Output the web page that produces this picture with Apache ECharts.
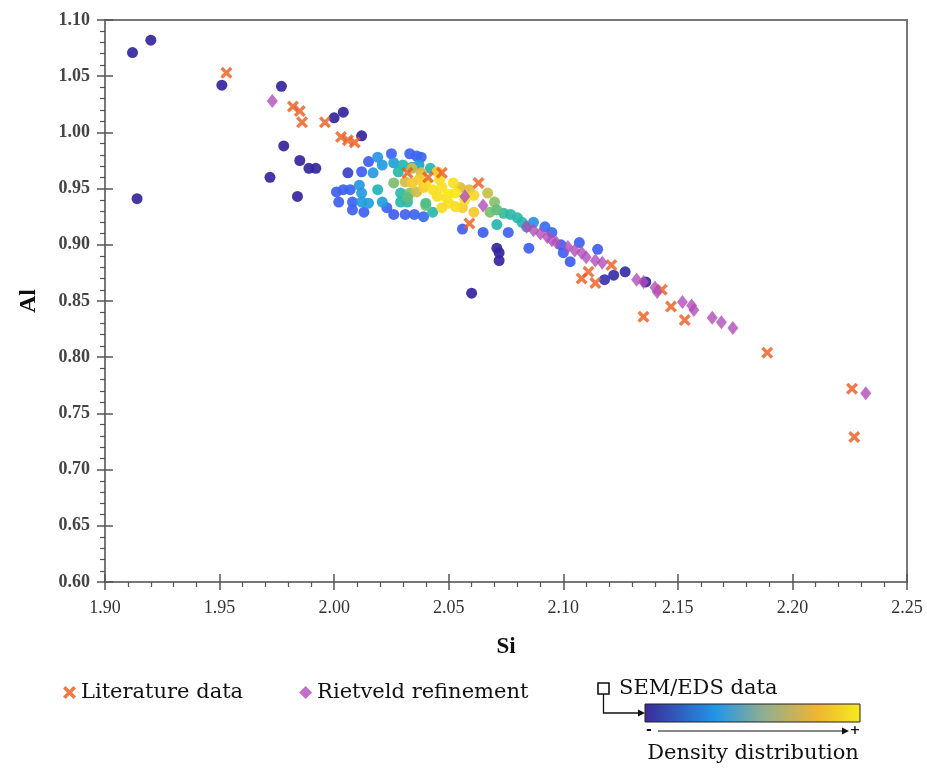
<!DOCTYPE html>
<html>
<head>
<meta charset="utf-8">
<script src="https://cdn.jsdelivr.net/npm/echarts@6/dist/echarts.min.js"></script>
<style>
  html, body { margin: 0; padding: 0; background: #fff; }
  #chart { width: 927px; height: 769px; }
</style>
</head>
<body>
<div id="chart"></div>
<script>
// x / y ticks
const siTicks = [1.90, 1.95, 2.00, 2.05, 2.10, 2.15, 2.20, 2.25]
const alTicks = [0.60, 0.65, 0.70, 0.75, 0.80, 0.85, 0.90, 0.95, 1.00, 1.05, 1.10]

// SEM/EDS points: [Si, Al, density 0..1]
const semData = [
  // isolated, low density
  [1.912, 1.071, 0], [1.920, 1.082, 0], [1.951, 1.042, 0], [1.914, 0.941, 0],
  [1.977, 1.041, 0], [1.972, 0.960, 0], [1.978, 0.988, 0], [1.985, 0.975, 0],
  [1.989, 0.968, 0], [1.992, 0.968, 0], [1.984, 0.943, 0], [2.000, 1.013, 0],
  [2.004, 1.018, 0], [2.012, 0.997, 0], [2.060, 0.857, 0], [2.071, 0.897, 0],
  [2.072, 0.893, 0], [2.072, 0.886, 0], [2.118, 0.869, 0.03], [2.122, 0.873, 0.02],
  [2.127, 0.876, 0.02], [2.136, 0.867, 0], [2.006, 0.964, 0.06],
  // blue
  [2.012, 0.965, 0.12], [2.015, 0.974, 0.12], [2.025, 0.981, 0.13], [2.033, 0.981, 0.13],
  [2.036, 0.979, 0.14], [2.038, 0.978, 0.14], [2.001, 0.947, 0.12], [2.004, 0.949, 0.13],
  [2.007, 0.949, 0.14], [2.002, 0.938, 0.12], [2.008, 0.938, 0.14], [2.008, 0.931, 0.13],
  [2.013, 0.929, 0.13], [2.023, 0.933, 0.14], [2.026, 0.927, 0.12], [2.031, 0.927, 0.13],
  [2.035, 0.927, 0.14], [2.039, 0.925, 0.15], [2.056, 0.914, 0.12], [2.065, 0.911, 0.12],
  [2.076, 0.911, 0.13], [2.085, 0.897, 0.12], [2.092, 0.916, 0.16], [2.095, 0.911, 0.15],
  [2.099, 0.900, 0.13], [2.103, 0.885, 0.12], [2.107, 0.902, 0.13], [2.115, 0.896, 0.12],
  [2.100, 0.893, 0.13],
  // light blue
  [2.019, 0.978, 0.26], [2.017, 0.964, 0.27], [2.021, 0.971, 0.28], [2.026, 0.973, 0.29],
  [2.034, 0.969, 0.30], [2.037, 0.971, 0.30], [2.011, 0.953, 0.27], [2.012, 0.946, 0.28],
  [2.012, 0.938, 0.28], [2.015, 0.937, 0.29], [2.021, 0.938, 0.29], [2.087, 0.920, 0.24],
  // teal
  [2.019, 0.949, 0.40], [2.030, 0.971, 0.42], [2.028, 0.965, 0.42], [2.029, 0.946, 0.43],
  [2.029, 0.938, 0.42], [2.032, 0.938, 0.43], [2.042, 0.968, 0.42], [2.043, 0.929, 0.42],
  [2.071, 0.918, 0.42], [2.074, 0.928, 0.45], [2.077, 0.927, 0.44], [2.080, 0.924, 0.43],
  [2.082, 0.920, 0.42], [2.084, 0.916, 0.36],
  // green
  [2.026, 0.955, 0.56], [2.033, 0.946, 0.57], [2.032, 0.942, 0.52], [2.040, 0.935, 0.55],
  [2.070, 0.938, 0.58], [2.068, 0.929, 0.56], [2.071, 0.931, 0.52], [2.040, 0.937, 0.50],
  // yellow-green
  [2.031, 0.956, 0.70], [2.036, 0.947, 0.70], [2.034, 0.968, 0.68], [2.038, 0.964, 0.72],
  [2.055, 0.951, 0.73], [2.059, 0.949, 0.72], [2.067, 0.946, 0.68],
  // orange
  [2.034, 0.955, 0.84], [2.037, 0.958, 0.85], [2.045, 0.965, 0.84], [2.039, 0.951, 0.86],
  [2.056, 0.933, 0.85], [2.061, 0.929, 0.84],
  // yellow core
  [2.040, 0.955, 0.94], [2.043, 0.949, 0.96], [2.046, 0.958, 0.95], [2.047, 0.951, 0.98],
  [2.052, 0.955, 0.97], [2.053, 0.946, 1.00], [2.049, 0.942, 0.98], [2.050, 0.937, 0.96],
  [2.047, 0.933, 0.93], [2.053, 0.934, 0.95], [2.061, 0.944, 0.92], [2.057, 0.940, 0.97],
  [2.050, 0.945, 1.00], [2.045, 0.943, 0.95]
]

// Literature data: [Si, Al]
const litData = [
  [1.953, 1.053], [1.982, 1.023], [1.985, 1.019], [1.986, 1.009], [1.996, 1.009],
  [2.003, 0.996], [2.006, 0.993], [2.009, 0.991], [2.032, 0.964], [2.041, 0.960],
  [2.047, 0.964], [2.063, 0.955], [2.059, 0.919], [2.108, 0.870], [2.111, 0.876],
  [2.114, 0.866], [2.121, 0.882], [2.143, 0.860], [2.135, 0.836], [2.147, 0.845],
  [2.153, 0.833], [2.189, 0.804], [2.226, 0.772], [2.227, 0.729]
]

// Rietveld refinement: [Si, Al]
const rietData = [
  [1.973, 1.028], [2.057, 0.943], [2.065, 0.935], [2.084, 0.916], [2.087, 0.913],
  [2.090, 0.910], [2.093, 0.907], [2.095, 0.904], [2.097, 0.902], [2.102, 0.898],
  [2.105, 0.895], [2.108, 0.893], [2.110, 0.889], [2.114, 0.886], [2.117, 0.884],
  [2.132, 0.869], [2.135, 0.867], [2.140, 0.862], [2.141, 0.858], [2.152, 0.849],
  [2.156, 0.846], [2.157, 0.842], [2.165, 0.835], [2.169, 0.831], [2.174, 0.826],
  [2.232, 0.768]
]

const densityColors = ['#35259e', '#3f5ff2', '#2a94e6', '#12b3c4', '#4dbe86', '#a9c152', '#efba3a', '#f9cf2c', '#f8e61c']

const crossPath = 'path://M0,2L2,0L5,3L8,0L10,2L7,5L10,8L8,10L5,7L2,10L0,8L3,5Z'
const serif = 'Liberation Serif'
const legendFont = 'DejaVu Serif'

const chart = echarts.init(document.getElementById('chart'))

const axisBase = {
  type: 'value',
  splitLine: { show: false }
}

const option = {
  animation: false,
  backgroundColor: '#fff',
  grid: {
    left: 105,
    right: 20,
    top: 20,
    bottom: 187,
    show: true,
    borderColor: '#777',
    borderWidth: 2
  },
  // color mapping for the SEM/EDS density
  visualMap: {
    show: false,
    type: 'continuous',
    seriesIndex: 0,
    dimension: 2,
    min: 0,
    max: 1,
    inRange: { color: densityColors }
  },
  legend: {
    data: ['Literature data', 'Rietveld refinement'],
    left: 58,
    top: 677,
    itemGap: 56,
    itemWidth: 13,
    itemHeight: 13,
    textStyle: { fontFamily: legendFont, fontSize: 21, color: '#111' }
  },
  xAxis: [
    {
      ...axisBase,
      min: siTicks[0],
      max: siTicks[siTicks.length - 1],
      interval: 0.05,
      position: 'bottom',
      axisLine: { show: true, onZero: false, lineStyle: { color: '#777', width: 2 } },
      axisTick: { show: true, inside: false, length: 8, lineStyle: { color: '#555', width: 1.5 } },
      minorTick: { show: true, splitNumber: 5, length: 5, lineStyle: { color: '#555', width: 1.2 } },
      axisLabel: {
        margin: 17,
        fontFamily: serif,
        fontSize: 18,
        color: '#333',
        formatter: (v) => v.toFixed(2)
      },
      name: 'Si',
      nameLocation: 'middle',
      nameGap: 54,
      nameTextStyle: { fontFamily: serif, fontSize: 23, fontWeight: 'bold', color: '#111' }
    },
    {
      // inward half of the major ticks
      ...axisBase,
      min: siTicks[0],
      max: siTicks[siTicks.length - 1],
      interval: 0.05,
      position: 'bottom',
      axisLine: { show: false, onZero: false },
      axisTick: { show: true, inside: true, length: 8, lineStyle: { color: '#555', width: 1.5 } },
      axisLabel: { show: false }
    }
  ],
  yAxis: [
    {
      ...axisBase,
      min: alTicks[0],
      max: alTicks[alTicks.length - 1],
      interval: 0.05,
      position: 'left',
      axisLine: { show: true, onZero: false, lineStyle: { color: '#777', width: 2 } },
      axisTick: { show: true, inside: false, length: 8, lineStyle: { color: '#555', width: 1.5 } },
      minorTick: { show: true, splitNumber: 5, length: 5, lineStyle: { color: '#555', width: 1.2 } },
      axisLabel: {
        margin: 15,
        fontFamily: serif,
        fontSize: 18,
        fontWeight: 'bold',
        color: '#444',
        formatter: (v) => v.toFixed(2)
      },
      name: 'Al',
      nameLocation: 'middle',
      nameGap: 64,
      nameRotate: 90,
      nameTextStyle: { fontFamily: serif, fontSize: 24, fontWeight: 'bold', color: '#111' }
    },
    {
      ...axisBase,
      min: alTicks[0],
      max: alTicks[alTicks.length - 1],
      interval: 0.05,
      position: 'left',
      axisLine: { show: false, onZero: false },
      axisTick: { show: true, inside: true, length: 8, lineStyle: { color: '#555', width: 1.5 } },
      axisLabel: { show: false }
    }
  ],
  series: [
    {
      name: 'SEM/EDS data',
      type: 'scatter',
      symbol: 'circle',
      symbolSize: 11,
      itemStyle: { opacity: 0.92 },
      data: semData
    },
    {
      name: 'Literature data',
      type: 'scatter',
      symbol: crossPath,
      symbolSize: 12,
      itemStyle: { color: '#ea5a1c' },
      data: litData
    },
    {
      name: 'Rietveld refinement',
      type: 'scatter',
      symbol: 'diamond',
      symbolSize: [11, 14],
      itemStyle: { color: '#b04cb8' },
      data: rietData
    }
  ],
  // SEM/EDS legend with density colour bar
  graphic: [
    {
      type: 'rect',
      shape: { x: 598, y: 683, width: 11, height: 11 },
      style: { fill: 'none', stroke: '#111', lineWidth: 1.6 }
    },
    {
      type: 'text',
      style: { text: 'SEM/EDS data', x: 619, y: 689, font: '21px "DejaVu Serif"', fill: '#111', verticalAlign: 'middle', textVerticalAlign: 'middle' }
    },
    {
      type: 'polyline',
      shape: { points: [[603.5, 694], [603.5, 713], [639, 713]] },
      style: { stroke: '#111', lineWidth: 1.3, fill: 'none' }
    },
    {
      type: 'polygon',
      shape: { points: [[645, 713], [638, 709.5], [638, 716.5]] },
      style: { fill: '#111' }
    },
    {
      type: 'rect',
      shape: { x: 645, y: 704, width: 215, height: 18 },
      style: {
        stroke: '#222',
        lineWidth: 1,
        fill: new echarts.graphic.LinearGradient(0, 0, 1, 0, [
          { offset: 0, color: '#3b2a98' },
          { offset: 0.33, color: '#2196e8' },
          { offset: 0.55, color: '#8fae92' },
          { offset: 0.8, color: '#efb533' },
          { offset: 1, color: '#f6ea1e' }
        ])
      }
    },
    {
      type: 'text',
      style: { text: '-', x: 649, y: 730, font: 'bold 14px "DejaVu Sans"', fill: '#111', align: 'center', textAlign: 'center', verticalAlign: 'middle', textVerticalAlign: 'middle' }
    },
    {
      type: 'line',
      shape: { x1: 658, y1: 731, x2: 842, y2: 731 },
      style: { stroke: '#111', lineWidth: 1 }
    },
    {
      type: 'polygon',
      shape: { points: [[849, 731], [842, 727.5], [842, 734.5]] },
      style: { fill: '#111' }
    },
    {
      type: 'text',
      style: { text: '+', x: 855, y: 731, font: 'bold 13px "DejaVu Sans"', fill: '#111', align: 'center', textAlign: 'center', verticalAlign: 'middle', textVerticalAlign: 'middle' }
    },
    {
      type: 'text',
      style: { text: 'Density distribution', x: 753, y: 754, font: '21px "DejaVu Serif"', fill: '#111', align: 'center', textAlign: 'center', verticalAlign: 'middle', textVerticalAlign: 'middle' }
    }
  ]
}

chart.setOption(option)
</script>
</body>
</html>
